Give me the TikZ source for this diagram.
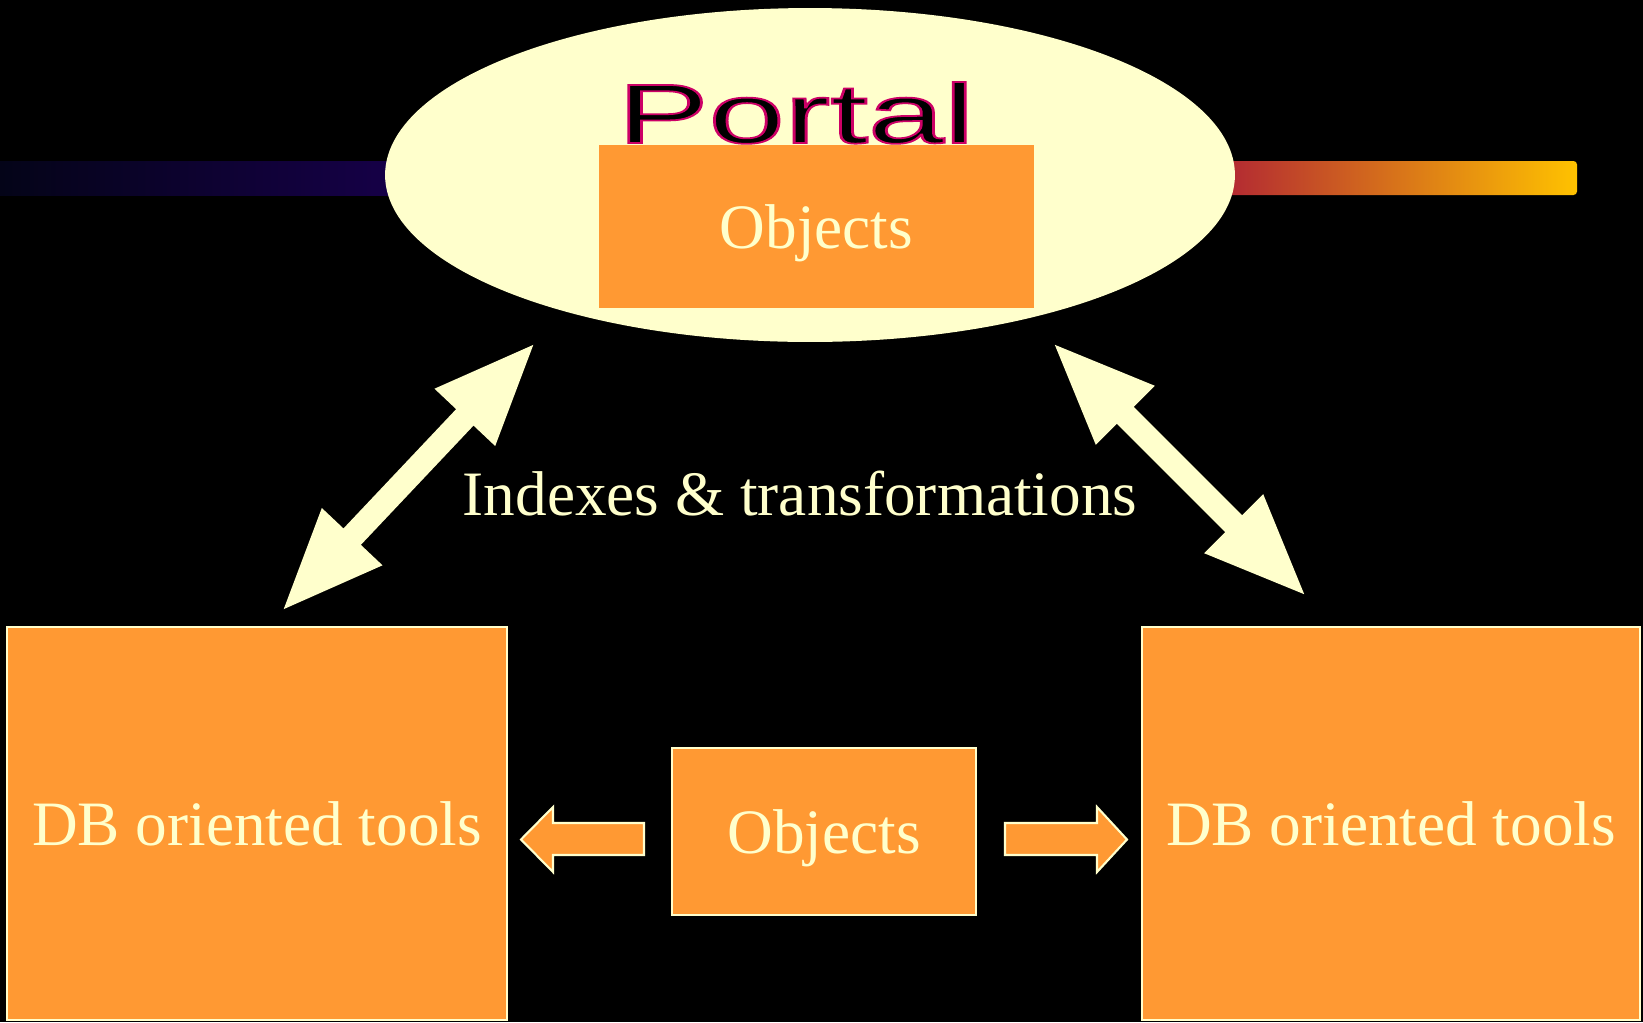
\documentclass[tikz,border=0pt]{standalone}
\usepackage{fontspec}
\setmainfont{Liberation Serif}
\newfontfamily\portalfont{Liberation Sans}
\usepackage{graphicx}
\usetikzlibrary{shapes.geometric,arrows.meta}
\definecolor{cream}{HTML}{FFFFCC}
\definecolor{tangerine}{HTML}{FF9933}
\definecolor{barnight}{RGB}{4,4,24}
\definecolor{barnavy}{RGB}{0,0,80}
\definecolor{barplum}{RGB}{22,0,72}
\definecolor{barred}{RGB}{176,36,52}
\definecolor{barorange}{RGB}{240,112,0}
\definecolor{baryellow}{RGB}{255,194,0}
\newcommand{\rimtext}[1]{\special{pdf:literal direct 2 Tr 1 w 0.8 0 0.4 RG}#1\special{pdf:literal direct 0 Tr}}

\begin{document}
\begin{tikzpicture}[x=0.02cm, y=-0.02cm,
        box/.style={fill=tangerine, draw=cream, line width=1.4pt, text=cream, text depth=0pt,
                    font=\fontsize{36}{40}\selectfont, inner sep=0pt},
        blockarrow/.style={fill=tangerine, draw=cream, line width=1.2pt},
        twoway/.style={draw=cream, line width=13.6pt, >={Triangle[length=59pt,width=43pt]}, <->}]
        \fill[black] (0,0) rectangle (1643,1022);
        \useasboundingbox (0,0) rectangle (1643,1022);
        \shade[left color=barnight, middle color=barnavy, right color=barplum] (0,161) rectangle (400,195);
        \shade[left color=barred, middle color=barorange, right color=baryellow, rounded corners=2pt] (1215,161) rectangle (1577,195);
        \node (portal) at (810,175) [ellipse, fill=cream, minimum width=17cm, minimum height=6.68cm, inner sep=0pt] {};
        \node (title) at (796,143) [anchor=base, inner sep=0pt, text=black]
            {\portalfont\fontsize{48}{50}\selectfont\scalebox{1.62}[1]{\rimtext{Portal}}};
        \node (topobj) at (816.5,226.5) [box, draw=none, minimum width=8.7cm, minimum height=3.26cm] {Objects};
        \node (dbleft) at (257,823.5) [box, minimum width=10cm, minimum height=7.86cm] {DB oriented tools};
        \node (dbright) at (1391,823.5) [box, minimum width=9.96cm, minimum height=7.86cm] {DB oriented tools};
        \node (midobj) at (824,831.5) [box, minimum width=6.08cm, minimum height=3.34cm] {Objects};
        \node (links) at (800,515) [anchor=base, text=cream, font=\fontsize{36}{40}\selectfont] {Indexes \& transformations};
        \coordinate (lbot) at (281,612);
        \coordinate (ltop) at (536,342);
        \coordinate (rtop) at (1052,342);
        \coordinate (rbot) at (1307,597);
        \draw[twoway] (lbot) -- (ltop);
        \draw[twoway] (rtop) -- (rbot);
        \filldraw[blockarrow] (644,823) -- (553,823) -- (553,807) -- (521,839.5) -- (553,872) -- (553,855) -- (644,855) -- cycle;
        \filldraw[blockarrow] (1005,823) -- (1097,823) -- (1097,807) -- (1127,839.5) -- (1097,872) -- (1097,855) -- (1005,855) -- cycle;
\end{tikzpicture}
\end{document}
